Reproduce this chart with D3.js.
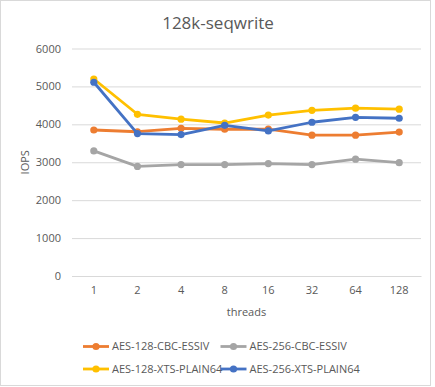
<!DOCTYPE html>
<html>
<head>
<meta charset="utf-8">
<script src="https://cdn.jsdelivr.net/npm/d3@7"></script>
<style>
  body { margin: 0; background: #fff; }
  text { font-family: "Open Sans", "Noto Sans", sans-serif; fill: #595959; }
</style>
</head>
<body>
<div id="chart"></div>
<script>
// Data
const threads = ['1', '2', '4', '8', '16', '32', '64', '128']
const yTicks = [0, 1000, 2000, 3000, 4000, 5000, 6000]
const seriesNames = ['AES-128-CBC-ESSIV', 'AES-256-CBC-ESSIV', 'AES-128-XTS-PLAIN64', 'AES-256-XTS-PLAIN64']
const aes128cbc = [3850, 3805, 3895, 3870, 3875, 3715, 3715, 3795]
const aes256cbc = [3300, 2890, 2940, 2940, 2965, 2940, 3080, 2990]
const aes128xts = [5195, 4265, 4135, 4035, 4245, 4370, 4425, 4400]
const aes256xts = [5110, 3755, 3730, 3975, 3825, 4055, 4185, 4160]
const colors = ['#ED7D31', '#A5A5A5', '#FFC000', '#4472C4']

const series = [aes128cbc, aes256cbc, aes128xts, aes256xts].map((values, i) => ({
    name: seriesNames[i],
    color: colors[i],
    values: values
}))

// Dimension
const dimension = {
    width: 435,
    height: 387,
    margin: { top: 48.5, left: 72, right: 14, bottom: 111 }
}
dimension.ctrwidth = dimension.width - dimension.margin.left - dimension.margin.right
dimension.ctrheight = dimension.height - dimension.margin.top - dimension.margin.bottom

const svg = d3.select('#chart')
    .append('svg')
    .attr('width', dimension.width)
    .attr('height', dimension.height)

svg.append('rect')
    .attr('x', 0.5).attr('y', 0.5)
    .attr('width', 430).attr('height', 385)
    .attr('fill', '#fff')
    .attr('stroke', '#D9D9D9')

svg.append('text')
    .attr('x', 218)
    .attr('y', 29)
    .attr('text-anchor', 'middle')
    .style('font-size', '17px')
    .text('128k-seqwrite')

const ctr = svg.append('g')
    .attr('transform', `translate(${dimension.margin.left}, ${dimension.margin.top})`)

// Scales
const xScale = d3.scaleBand()
    .domain(threads)
    .range([0, dimension.ctrwidth])

const yScale = d3.scaleLinear()
    .domain([0, 6000])
    .range([dimension.ctrheight, 0])

// Gridlines / y axis
const yAxis = d3.axisLeft(yScale)
    .tickValues(yTicks)
    .tickFormat(d3.format('d'))
    .tickSize(-dimension.ctrwidth)
    .tickPadding(11)

const yAxisGroup = ctr.append('g').call(yAxis)
yAxisGroup.select('.domain').remove()
yAxisGroup.selectAll('line').attr('stroke', '#D9D9D9')
yAxisGroup.selectAll('text').style('font-size', '11px').attr('fill', '#595959')

// x axis
const xAxis = d3.axisBottom(xScale).tickSize(0).tickPadding(10)
const xAxisGroup = ctr.append('g')
    .attr('transform', `translate(0, ${dimension.ctrheight})`)
    .call(xAxis)
xAxisGroup.select('.domain').attr('stroke', '#D9D9D9')
xAxisGroup.selectAll('text').style('font-size', '11px').attr('fill', '#595959')

ctr.append('text')
    .attr('x', dimension.ctrwidth / 2)
    .attr('y', dimension.ctrheight + 40)
    .attr('text-anchor', 'middle')
    .style('font-size', '11px')
    .text('threads')

ctr.append('text')
    .attr('transform', `translate(-43, ${dimension.ctrheight / 2}) rotate(-90)`)
    .attr('text-anchor', 'middle')
    .style('font-size', '11px')
    .text('IOPS')

// Lines
const line = d3.line()
    .x((d, i) => xScale(threads[i]) + xScale.bandwidth() / 2)
    .y(d => yScale(d))

const sg = ctr.selectAll('.series')
    .data(series)
    .join('g')

sg.append('path')
    .attr('d', d => line(d.values))
    .attr('fill', 'none')
    .attr('stroke', d => d.color)
    .attr('stroke-width', 2.8)
    .attr('stroke-linejoin', 'round')

sg.selectAll('circle')
    .data(d => d.values.map(v => ({ v, color: d.color })))
    .join('circle')
    .attr('cx', (d, i) => xScale(threads[i]) + xScale.bandwidth() / 2)
    .attr('cy', d => yScale(d.v))
    .attr('r', 3.6)
    .attr('fill', d => d.color)

// Legend
const legendPos = [[83, 346.5], [220.5, 346.5], [83, 369], [220.5, 369]]
const legend = svg.selectAll('.legend')
    .data(series)
    .join('g')
    .attr('transform', (d, i) => `translate(${legendPos[i][0]}, ${legendPos[i][1]})`)

legend.append('line')
    .attr('x1', 0).attr('x2', 26)
    .attr('stroke', d => d.color)
    .attr('stroke-width', 2.8)
legend.append('circle')
    .attr('cx', 13).attr('r', 3.6)
    .attr('fill', d => d.color)
legend.append('text')
    .attr('x', 29)
    .attr('dy', '0.35em')
    .style('font-size', '11px')
    .text(d => d.name)
</script>
</body>
</html>
